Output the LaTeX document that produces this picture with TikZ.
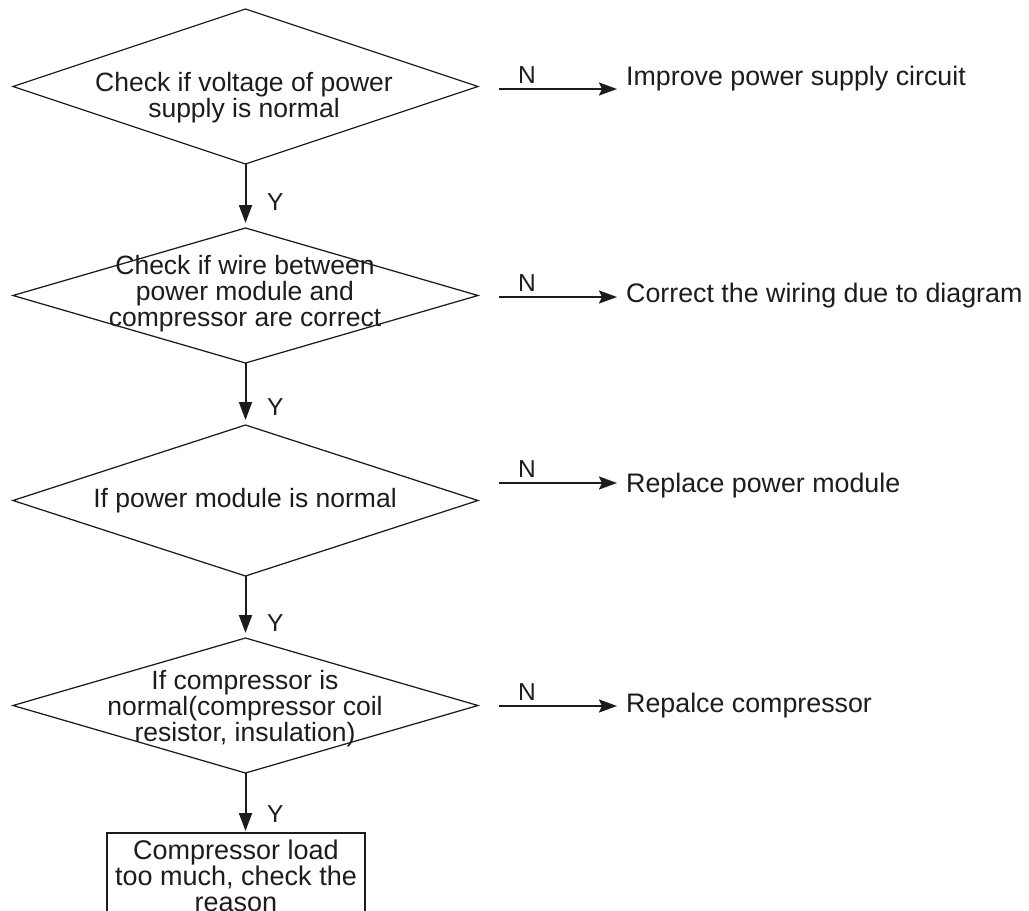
\documentclass[tikz,border=0pt]{standalone}
\usepackage{fontspec}
\setmainfont{Liberation Sans}
\usetikzlibrary{shapes.geometric,arrows.meta}
\definecolor{ink}{RGB}{30,27,28}
\begin{document}
\begin{tikzpicture}[x=1pt,y=-1pt,
  dia/.style={draw=ink, line width=1.25pt, shape=diamond, inner sep=0pt, outer sep=0pt, minimum width=465pt},
  txt/.style={text=ink, align=center, inner sep=0pt, font=\fontsize{26.5}{26}\selectfont},
  side/.style={text=ink, anchor=base west, inner sep=0pt, font=\fontsize{26.8}{26}\selectfont},
  lab/.style={text=ink, inner sep=0pt, font=\fontsize{24.5}{26}\selectfont},
  varr/.style={draw=ink, line width=2pt, -{Triangle[length=18pt,width=13pt]}, shorten >=5pt},
  harr/.style={draw=ink, line width=2pt, -{Stealth[length=18pt,width=13pt,inset=3pt]}, shorten >=9pt},
  boxst/.style={draw=ink, line width=1.8pt, inner sep=0pt, outer sep=0pt, minimum width=258pt, minimum height=86pt, align=center, text=ink, font=\fontsize{27}{26}\selectfont}]
\useasboundingbox (0,0) rectangle (1029,911);
\clip (0,0) rectangle (1029,911);

% decision diamonds
\node[dia, minimum height=155pt] (d1) at (245.5,86.5) {};
\node[dia, minimum height=135pt] (d2) at (245.5,295.5) {};
\node[dia, minimum height=151pt] (d3) at (245.5,500.5) {};
\node[dia, minimum height=135pt] (d4) at (245.5,705.5) {};

\node[txt] (t1) at (244,97.2) {Check if voltage of power\\supply is normal};
\node[txt] (t2) at (245,293.7) {Check if wire between\\power module and\\compressor are correct};
\node[txt] (t3) at (245,500.5) {If power module is normal};
\node[txt] (t4) at (245,708.3) {If compressor is\\normal(compressor coil\\resistor, insulation)};

% final box
\node[boxst] (b) at (236,876) {Compressor load\\too much, check the\\reason};

% Y connectors
\draw[varr] (d1.south) -- (d2.north) node[lab, pos=0.734, anchor=base west, xshift=20.5pt] (y1) {Y};
\draw[varr] (d2.south) -- (d3.north) node[lab, pos=0.839, anchor=base west, xshift=20.5pt] (y2) {Y};
\draw[varr] (d3.south) -- (d4.north) node[lab, pos=0.903, anchor=base west, xshift=20.5pt] (y3) {Y};
\draw[varr, shorten >=2pt] (d4.south) -- (d4.south |- b.north) node[lab, pos=0.833, anchor=base west, xshift=20.5pt] (y4) {Y};

% N branches
\coordinate (c1) at (499,89);
\coordinate (c2) at (499,297);
\coordinate (c3) at (499,483);
\coordinate (c4) at (499,706);

\node[side] (r1) at (626,85) {Improve power supply circuit};
\node[side] (r2) at (626,302) {Correct the wiring due to diagram};
\node[side] (r3) at (626,492) {Replace power module};
\node[side] (r4) at (626,712) {Repalce compressor};

\draw[harr] (c1) -- (c1 -| r1.west) node[lab, pos=0.22, anchor=base, yshift=6pt] (n1) {N};
\draw[harr] (c2) -- (c2 -| r2.west) node[lab, pos=0.22, anchor=base, yshift=6pt] (n2) {N};
\draw[harr] (c3) -- (c3 -| r3.west) node[lab, pos=0.22, anchor=base, yshift=6pt] (n3) {N};
\draw[harr] (c4) -- (c4 -| r4.west) node[lab, pos=0.22, anchor=base, yshift=6pt] (n4) {N};
\end{tikzpicture}
\end{document}
